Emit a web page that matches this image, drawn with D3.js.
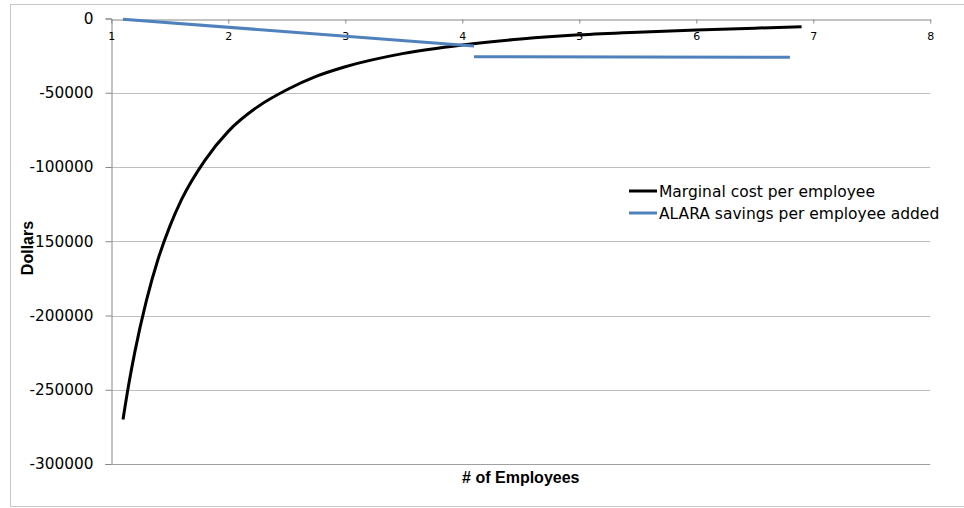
<!DOCTYPE html>
<html>
<head>
<meta charset="utf-8">
<script src="https://cdn.jsdelivr.net/npm/d3@7"></script>
<style>
  html, body { margin: 0; padding: 0; background: #fff; }
  svg { display: block; }
</style>
</head>
<body>
<svg id="chart" width="964" height="508"></svg>
<script>
// ---- data ----
const xTicks = [1, 2, 3, 4, 5, 6, 7, 8];
const yTicks = [0, -50000, -100000, -150000, -200000, -250000, -300000];

const costX = [1.1, 1.15, 1.2, 1.3, 1.4, 1.5, 1.6, 1.8, 2.0, 2.25, 2.5, 2.75, 3.0, 3.5, 4.0, 4.5, 5.0, 5.5, 6.0, 6.5, 6.9];
const costY = [-270000, -246000, -225000, -190000, -162000, -140000, -122000, -95500, -76000, -59500, -48000, -39000, -32500, -23500, -17800, -13800, -11000, -9200, -7800, -6500, -5500];

const savX = [1.1, 4.1, 4.1, 4.1, 6.8];
const savY = [-500, -18500, null, -25700, -26100];

const seriesNames = ["Marginal cost per employee", "ALARA savings per employee added"];
const seriesColors = ["#000000", "#4F81BD"];

// ---- chart ----
const svg = d3.select("#chart");
const x = d3.scaleLinear().domain([1, 8]).range([111.3, 930.3]);
const y = d3.scaleLinear().domain([-300000, 0]).range([464, 18.5]);

// outer border
svg.append("rect").attr("x", 10.5).attr("y", 4.5).attr("width", 970).attr("height", 502)
  .attr("fill", "none").attr("stroke", "#c8c8c8").attr("stroke-width", 1);

// gridlines
svg.append("g").selectAll("line").data(yTicks.filter(d => d !== 0 && d !== -300000)).join("line")
  .attr("x1", x(1)).attr("x2", x(8))
  .attr("y1", d => Math.round(y(d)) + 0.5).attr("y2", d => Math.round(y(d)) + 0.5)
  .attr("stroke", "#bfbfbf").attr("stroke-width", 1);

// y axis
const yAxis = svg.append("g").attr("transform", `translate(${Math.round(x(1)) + 0.5},0)`)
  .call(d3.axisLeft(y).tickValues(yTicks).tickSize(6).tickPadding(12).tickFormat(d => String(d)));
yAxis.select(".domain").attr("stroke", "#868686");
yAxis.selectAll(".tick line").attr("stroke", "#868686");
yAxis.selectAll(".tick text").attr("font-family", "DejaVu Sans").attr("font-size", "15.3px").attr("fill", "#000");

// bottom line (-300000)
svg.append("line").attr("x1", x(1)).attr("x2", x(8))
  .attr("y1", Math.round(y(-300000)) + 0.5).attr("y2", Math.round(y(-300000)) + 0.5)
  .attr("stroke", "#a0a0a0");

// x axis at y=0
const xAxis = svg.append("g").attr("transform", `translate(0,${Math.round(y(0)) + 0.5})`)
  .call(d3.axisBottom(x).tickValues(xTicks).tickSize(4).tickSizeOuter(0).tickPadding(9).tickFormat(d => String(d)));
xAxis.select(".domain").attr("stroke", "#868686");
xAxis.selectAll(".tick line").attr("stroke", "#868686");
xAxis.selectAll(".tick text").attr("font-family", "DejaVu Sans").attr("font-size", "11px").attr("fill", "#000");

// lines
const costData = costX.map((v, i) => ({x: v, y: costY[i]}));
const savData = savX.map((v, i) => ({x: v, y: savY[i]}));

svg.append("path").datum(costData)
  .attr("d", d3.line().x(d => x(d.x)).y(d => y(d.y)).curve(d3.curveMonotoneX))
  .attr("fill", "none").attr("stroke", seriesColors[0]).attr("stroke-width", 3);

svg.append("path").datum(savData)
  .attr("d", d3.line().defined(d => d.y !== null).x(d => x(d.x)).y(d => y(d.y)))
  .attr("fill", "none").attr("stroke", seriesColors[1]).attr("stroke-width", 3);

// axis titles
svg.append("text").attr("x", (x(1) + x(8)) / 2).attr("y", 483)
  .attr("text-anchor", "middle").attr("font-family", "Liberation Sans").attr("font-weight", "bold")
  .attr("font-size", "16px").text("# of Employees");

svg.append("text").attr("transform", "translate(33,248) rotate(-90)")
  .attr("text-anchor", "middle").attr("font-family", "Liberation Sans").attr("font-weight", "bold")
  .attr("font-size", "16px").text("Dollars");

// legend
const legend = svg.append("g").attr("transform", "translate(629,191)");
seriesNames.forEach((name, i) => {
  const g = legend.append("g").attr("transform", `translate(0,${i * 22})`);
  g.append("line").attr("x1", 0).attr("x2", 28).attr("y1", 0).attr("y2", 0)
    .attr("stroke", seriesColors[i]).attr("stroke-width", 3);
  g.append("text").attr("x", 30).attr("y", 6).attr("font-family", "DejaVu Sans")
    .attr("font-size", "15.5px").attr("fill", "#000").text(name);
});
</script>
</body>
</html>
